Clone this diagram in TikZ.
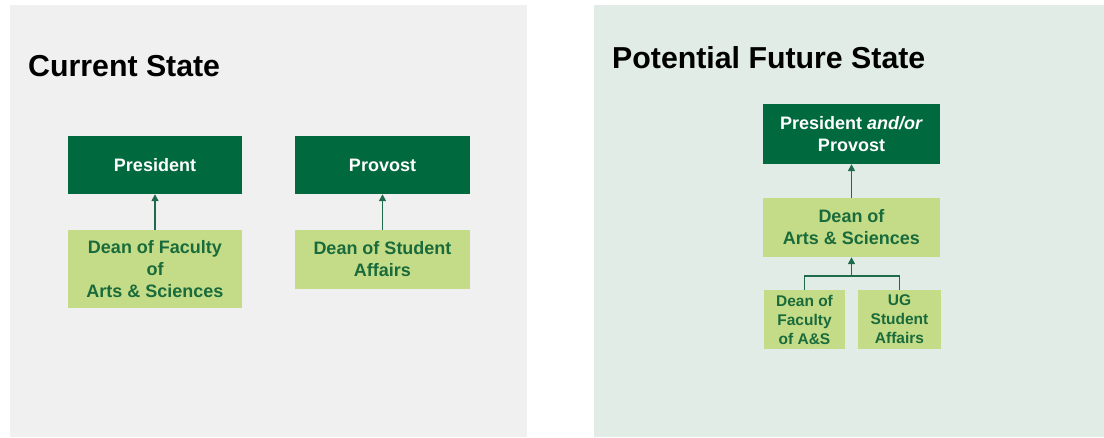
\documentclass[tikz,border=0pt]{standalone}
\usepackage{fontspec}
\setmainfont{Liberation Sans}
\usetikzlibrary{arrows.meta}

\definecolor{deepgreen}{HTML}{00693E}
\definecolor{palegreen}{HTML}{C4DC88}
\definecolor{inkgreen}{HTML}{1A6B3C}
\definecolor{linkgreen}{HTML}{1E6B4C}
\definecolor{greypanel}{HTML}{F0F0F0}
\definecolor{mintpanel}{HTML}{E1ECE6}

\tikzset{
    topbox/.style={fill=deepgreen, text=white, inner sep=0pt, align=center,
        font=\bfseries\fontsize{18}{22}\selectfont},
    deanbox/.style={fill=palegreen, text=inkgreen, inner sep=0pt, align=center,
        font=\bfseries\fontsize{18}{22}\selectfont},
    smallbox/.style={deanbox, font=\bfseries\fontsize{15.5}{19}\selectfont},
    heading/.style={anchor=west, inner sep=0pt, font=\bfseries\fontsize{30.3}{36}\selectfont},
    link/.style={draw=linkgreen, line width=1.5pt, -{Triangle[length=7pt,width=7pt]}}
}

\begin{document}
\begin{tikzpicture}[x=1pt, y=-1pt]

    \useasboundingbox (0,0) rectangle (1104,438);

    % Panels
    \fill[greypanel] (10,5) rectangle (527,437);
    \fill[mintpanel] (594,5) rectangle (1104,437);

    % Current state
    \node[heading] (curtitle) at (28,66) {Current State};

    \node[topbox, minimum width=174pt, minimum height=58pt] (pres) at (155,165) {President};
    \node[topbox, minimum width=175pt, minimum height=58pt] (prov) at (382.5,165) {Provost};
    \node[deanbox, minimum width=174pt, minimum height=78pt] (deanfac) at (155,269)
        {Dean of Faculty\\of\\Arts \& Sciences};
    \node[deanbox, minimum width=175pt, minimum height=59pt] (deansa) at (382.5,259.5)
        {Dean of Student\\Affairs};

    \draw[link] (deanfac) -- (pres);
    \draw[link] (deansa) -- (prov);

    % Potential future state
    \node[heading] (futtitle) at (612,57.5) {Potential Future State};

    \node[topbox, minimum width=177pt, minimum height=60pt] (presprov) at (851.5,134)
        {President \textit{and/or}\\Provost};
    \node[deanbox, minimum width=177pt, minimum height=59pt] (deanas) at (851.5,227.5)
        {Dean of\\Arts \& Sciences};
    \node[smallbox, minimum width=81pt, minimum height=59pt] (deanfas) at (804.5,319.5)
        {Dean of\\Faculty\\of A\&S};
    \node[smallbox, minimum width=83pt, minimum height=59pt] (ugsa) at (899.5,319.5)
        {UG\\Student\\Affairs};

    \coordinate (join) at (851.5,276);

    \draw[link] (deanas) -- (presprov);
    \draw[link] (join) -- (deanas);
    \draw[draw=linkgreen, line width=1.5pt] (deanfas.north) |- (join) -| (ugsa.north);

\end{tikzpicture}
\end{document}
